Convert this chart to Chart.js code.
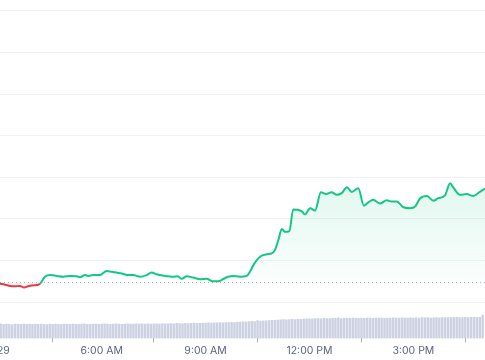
<!DOCTYPE html>
<html>
<head>
<meta charset="utf-8">
<script src="https://cdn.jsdelivr.net/npm/chart.js@4/dist/chart.umd.min.js"></script>
<style>
  html, body { margin: 0; padding: 0; background: #fff; overflow: hidden; }
  canvas { display: block; margin-left: -20px; }
</style>
</head>
<body>
<canvas id="chart" width="505" height="360"></canvas>
<script>
// x axis is in hours of the day
var tickHours = [3.16, 6, 9, 12, 15];
var tickLabels = ['29', '6:00 AM', '9:00 AM', '12:00 PM', '3:00 PM'];
var gridPrices = [42000, 42100, 42200, 42300, 42400, 42500, 42600, 42700];
var openPrice = 42047;

var priceTimes = [
  3.06, 3.21, 3.35, 3.50, 3.64, 3.76, 3.87, 3.99, 4.13, 4.22,
  4.36, 4.51, 4.70, 4.89, 5.09, 5.28, 5.37, 5.52, 5.61, 5.76,
  5.95, 6.14, 6.29, 6.43, 6.58, 6.77, 6.91, 7.11, 7.30, 7.44,
  7.59, 7.68, 7.88, 8.06, 8.20, 8.31, 8.45, 8.64, 8.84, 9.03,
  9.21, 9.36, 9.50, 9.65, 9.79, 9.99, 10.19, 10.28, 10.38, 10.57,
  10.77, 10.91, 11.00, 11.10, 11.20, 11.29, 11.42, 11.53, 11.65, 11.78,
  11.87, 12.02, 12.16, 12.33, 12.48, 12.64, 12.79, 12.93, 13.08, 13.22,
  13.41, 13.57, 13.70, 13.84, 14.04, 14.23, 14.37, 14.52, 14.71, 14.90,
  15.05, 15.19, 15.39, 15.58, 15.72, 15.91, 16.06, 16.15, 16.35, 16.54,
  16.73, 16.92, 17.07
];
var priceValues = [
  42044, 42042, 42039, 42038, 42039, 42035, 42038, 42040, 42041, 42044,
  42061, 42065, 42063, 42061, 42063, 42062, 42060, 42065, 42063, 42065,
  42065, 42075, 42073, 42071, 42069, 42065, 42065, 42061, 42065, 42071,
  42067, 42065, 42062, 42061, 42062, 42056, 42062, 42059, 42055, 42056,
  42050, 42050, 42055, 42061, 42063, 42061, 42063, 42073, 42089, 42109,
  42115, 42117, 42125, 42149, 42176, 42169, 42171, 42223, 42222, 42218,
  42211, 42226, 42220, 42264, 42260, 42264, 42258, 42262, 42276, 42265,
  42274, 42232, 42240, 42246, 42237, 42245, 42242, 42242, 42228, 42226,
  42230, 42249, 42255, 42244, 42250, 42256, 42286, 42276, 42258, 42260,
  42255, 42265, 42273
];

// 5 minute volume, first bar at 3:05
var volumeValues = [
  10.3, 9.9, 10.1, 10.0, 9.8, 10.2, 10.0, 9.9, 10.1, 10.0, 10.2,
  10.0, 10.1, 9.9, 10.2, 10.0, 9.8, 10.1, 10.0, 10.2, 9.9, 10.0, 10.1,
  10.1, 10.0, 10.2, 9.9, 10.0, 10.1, 10.3, 10.0, 9.9, 10.1, 10.2, 10.0,
  10.2, 10.3, 10.1, 10.0, 10.2, 10.4, 10.1, 10.0, 10.2, 10.3, 10.1, 10.2,
  10.3, 10.2, 10.4, 10.1, 10.3, 10.2, 10.4, 10.3, 10.2, 10.5, 10.3, 10.4,
  10.5, 10.4, 10.6, 10.5, 10.4, 10.7, 10.5, 10.6, 10.8, 10.6, 10.7, 10.9,
  10.8, 11.0, 10.9, 11.1, 11.0, 11.2, 11.1, 11.3, 11.2, 11.4, 11.3, 11.5,
  11.6, 11.8, 11.7, 12.0, 12.1, 12.0, 12.6, 12.3, 12.4, 12.5, 12.6, 12.8,
  12.9, 13.0, 13.1, 13.3, 13.2, 13.4, 13.5, 13.4, 13.6, 13.5, 13.7, 13.8,
  13.9, 13.8, 14.0, 14.1, 13.9, 14.2, 14.0, 14.1, 14.3, 14.2, 14.6, 14.1,
  14.2, 14.3, 14.2, 14.4, 14.3, 14.2, 14.4, 14.3, 14.5, 14.4, 14.3, 14.5,
  14.4, 14.5, 14.3, 14.5, 14.4, 14.6, 14.5, 14.4, 14.6, 14.5, 14.4, 14.6,
  14.5, 14.6, 14.5, 14.7, 14.6, 14.8, 14.5, 14.6, 14.7, 14.6, 14.8, 14.7,
  14.7, 14.8, 14.7, 14.9, 14.8, 14.7, 14.9, 14.8, 14.9, 15.0, 14.8, 14.9,
  16.5
];

var xMin = 3.063, xMax = 17.068;
var yMin = 41912.8, yMax = 42726.4;

var GREEN = '#16c784';
var RED = '#ea3943';

var volumeData = [];
for (var i = 0; i < volumeValues.length; i++) {
  volumeData.push({ x: 3 + (i + 1) * 5 / 60, y: volumeValues[i] });
}
var priceData = [];
for (var j = 0; j < priceValues.length; j++) {
  priceData.push({ x: priceTimes[j], y: priceValues[j] });
}

var ctx = document.getElementById('chart').getContext('2d');
var fillGrad = ctx.createLinearGradient(0, 180, 0, 282);
fillGrad.addColorStop(0, 'rgba(22, 199, 132, 0.13)');
fillGrad.addColorStop(1, 'rgba(22, 199, 132, 0.02)');

var chart = new Chart(ctx, {
  type: 'line',
  data: {
    datasets: [
      {
        label: 'price',
        data: priceData,
        yAxisID: 'y',
        borderColor: GREEN,
        borderWidth: 2,
        pointRadius: 0,
        cubicInterpolationMode: 'monotone',
        fill: { target: { value: openPrice }, above: fillGrad, below: 'rgba(234, 57, 67, 0.06)' },
        segment: {
          borderColor: function(c) { return c.p1.parsed.y < openPrice ? RED : GREEN; }
        },
        order: 1
      },
      {
        label: 'open',
        data: [{ x: xMin, y: openPrice }, { x: xMax, y: openPrice }],
        yAxisID: 'y',
        borderColor: '#a6b0c3',
        borderWidth: 1,
        borderDash: [1, 3],
        pointRadius: 0,
        fill: false,
        order: 2
      },
      {
        type: 'bar',
        label: 'volume',
        data: volumeData,
        yAxisID: 'yv',
        backgroundColor: '#cdd2e2',
        barThickness: 1.8,
        order: 3
      }
    ]
  },
  options: {
    responsive: false,
    animation: false,
    events: [],
    layout: { autoPadding: false, padding: { left: 20, right: 0, top: 0, bottom: 0 } },
    plugins: { legend: { display: false }, tooltip: { enabled: false } },
    scales: {
      x: {
        type: 'linear',
        min: xMin,
        max: xMax,
        offset: false,
        border: { display: false },
        grid: { drawOnChartArea: false, tickLength: 4, color: '#a6b0c3' },
        afterBuildTicks: function(scale) {
          scale.ticks = tickHours.map(function(v) { return { value: v }; });
        },
        ticks: {
          autoSkip: false,
          maxRotation: 0,
          padding: 2.5,
          color: '#58667e',
          font: { family: 'Inter', size: 10.5 },
          callback: function(value) {
            var k = tickHours.indexOf(value);
            return k >= 0 ? tickLabels[k] : '';
          }
        }
      },
      y: {
        position: 'right',
        min: yMin,
        max: yMax,
        border: { display: false },
        grid: { color: '#eff2f5', drawTicks: false },
        afterBuildTicks: function(scale) {
          scale.ticks = gridPrices.map(function(v) { return { value: v }; });
        },
        ticks: { display: false }
      },
      yv: {
        display: false,
        min: 0,
        max: 240
      }
    }
  }
});
</script>
</body>
</html>
